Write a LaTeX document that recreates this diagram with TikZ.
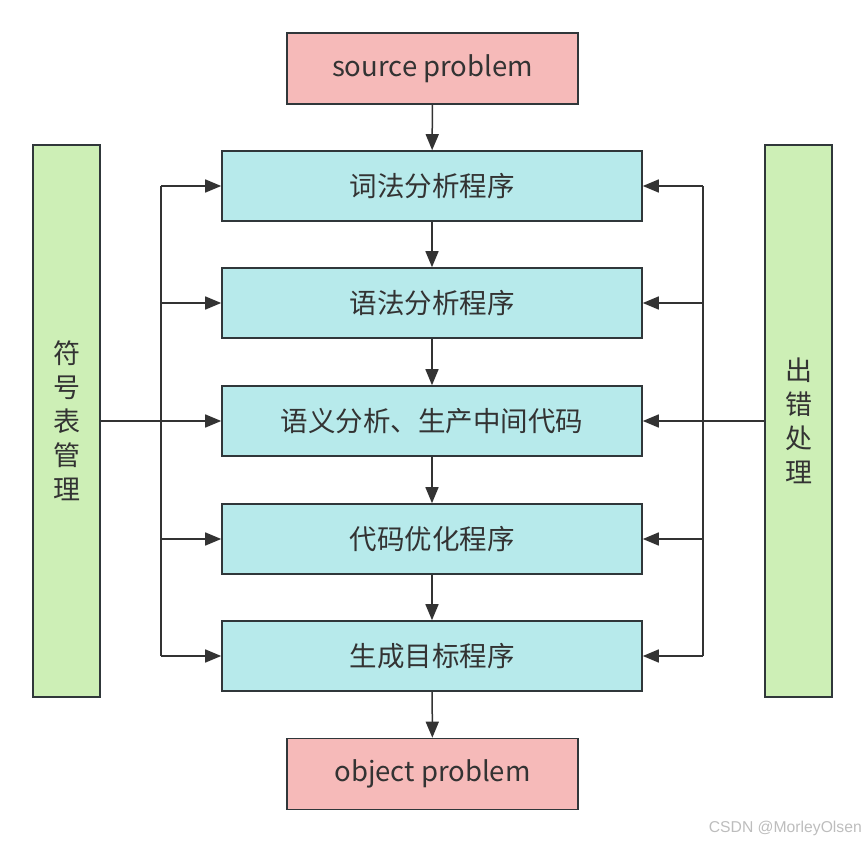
\documentclass[tikz,border=0pt]{standalone}
\usepackage{fontspec}
\setmainfont{Noto Sans CJK SC}
\newfontfamily\wmfont{Liberation Sans}
\usetikzlibrary{arrows.meta}
\definecolor{pinkfill}{HTML}{F6BAB9}
\definecolor{cyanfill}{HTML}{B7EAEB}
\definecolor{greenfill}{HTML}{CDEFB6}
\definecolor{edge}{HTML}{30373A}
\definecolor{txt}{HTML}{333333}
\definecolor{wm}{HTML}{BDBDBD}
\begin{document}
\begin{tikzpicture}[x=1pt,y=-1pt,
  box/.style={draw=edge,line width=1.6pt,inner sep=0pt,text=txt,font=\fontsize{27.5}{32}\selectfont},
  endbox/.style={box,fill=pinkfill,minimum width=291pt,minimum height=71pt},
  procbox/.style={box,fill=cyanfill,minimum width=420pt,minimum height=70pt},
  sidebox/.style={box,fill=greenfill,minimum width=67pt,minimum height=552pt,align=center,font=\fontsize{27}{34}\selectfont},
  conn/.style={draw=txt,line width=1.5pt},
  arr/.style={conn,-{Triangle[length=16pt,width=13pt]}}]
\useasboundingbox (0,0) rectangle (865,843);
\node[endbox] (src) at (432.5,68.5) {source problem};
\node[procbox] (b1) at (432,186) {词法分析程序};
\node[procbox] (b2) at (432,303) {语法分析程序};
\node[procbox] (b3) at (432,421) {语义分析、生产中间代码};
\node[procbox] (b4) at (432,539) {代码优化程序};
\node[procbox] (b5) at (432,656) {生成目标程序};
\node[endbox] (obj) at (432.5,774) {object problem};
\node[sidebox] (sym) at (66.5,421) {符\\号\\表\\管\\理};
\node[sidebox] (err) at (798.5,421) {出\\错\\处\\理};
\node[font=\wmfont\fontsize{15.7}{18}\selectfont,text=wm,anchor=east,inner sep=0pt] (mark) at (862,828) {CSDN @MorleyOlsen};
% main flow
\draw[arr] (src) -- (b1);
\draw[arr] (b1) -- (b2);
\draw[arr] (b2) -- (b3);
\draw[arr] (b3) -- (b4);
\draw[arr] (b4) -- (b5);
\draw[arr] (b5) -- (obj);
% left bus
\coordinate (l1) at (161,186);
\coordinate (l2) at (161,303);
\coordinate (l4) at (161,539);
\coordinate (l5) at (161,656);
\draw[conn] (l1) -- (l5);
\draw[arr] (l1) -- (b1.west);
\draw[arr] (l2) -- (b2.west);
\draw[arr] (sym) -- (b3);
\draw[arr] (l4) -- (b4.west);
\draw[arr] (l5) -- (b5.west);
% right bus
\coordinate (r1) at (703,186);
\coordinate (r2) at (703,303);
\coordinate (r4) at (703,539);
\coordinate (r5) at (703,656);
\draw[conn] (r1) -- (r5);
\draw[arr] (r1) -- (b1.east);
\draw[arr] (r2) -- (b2.east);
\draw[arr] (err) -- (b3);
\draw[arr] (r4) -- (b4.east);
\draw[arr] (r5) -- (b5.east);
\end{tikzpicture}
\end{document}
